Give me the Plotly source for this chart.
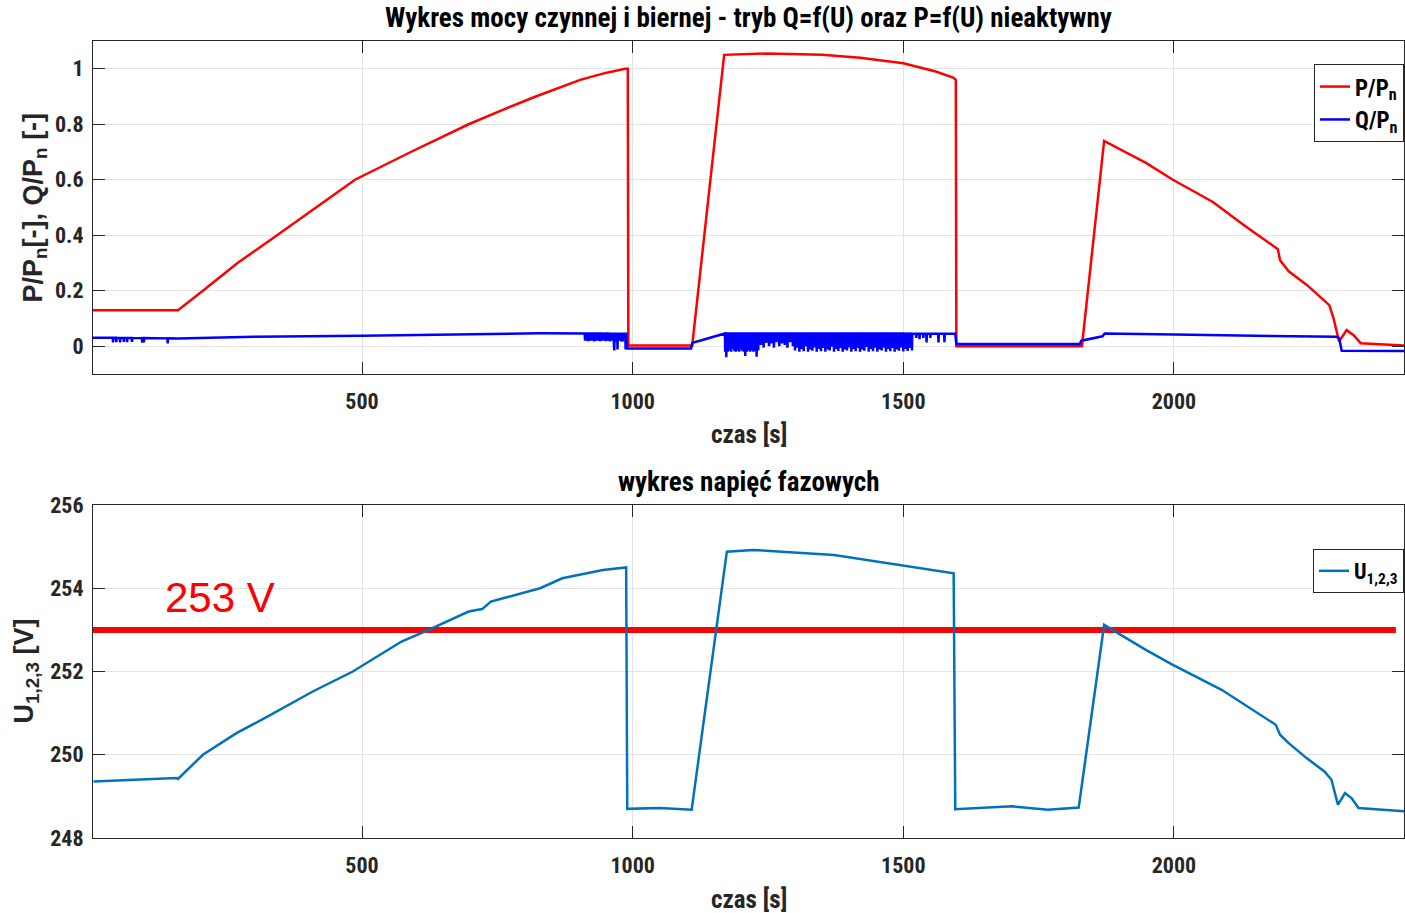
import numpy as np
import plotly.graph_objects as go

# ---------------- data ----------------
# Active power P/Pn
p_t = [3, 160, 206, 270, 343, 415, 487, 590, 697, 760, 821, 903, 950, 986, 991, 992, 1110,
       1169, 1250, 1350, 1420, 1500, 1560, 1593, 1597, 1598, 1830, 1871, 1949, 1998, 2072,
       2130, 2192, 2196, 2212, 2246, 2287, 2295, 2305, 2319, 2332, 2345, 2425]
p_v = [0.13, 0.13, 0.20, 0.30, 0.40, 0.50, 0.60, 0.70, 0.80, 0.852, 0.90, 0.96, 0.985, 1.0,
       1.0, 0.003, 0.003, 1.05, 1.055, 1.05, 1.04, 1.02, 0.99, 0.967, 0.96, 0.0, 0.0, 0.74,
       0.66, 0.60, 0.52, 0.435, 0.35, 0.31, 0.27, 0.22, 0.148, 0.10, 0.017, 0.058, 0.04,
       0.011, 0.003]

# Reactive power Q/Pn - base level
q_t = [3, 160, 300, 500, 700, 830, 988, 990, 1108, 1110, 1124, 1168, 1240, 1400, 1596, 1598,
       1826, 1829, 1868, 1872, 2000, 2150, 2300, 2305, 2310, 2425]
q_v = [0.031, 0.028, 0.034, 0.038, 0.043, 0.047, 0.045, -0.008, -0.008, 0.012, 0.02, 0.046,
       0.046, 0.046, 0.045, 0.008, 0.008, 0.02, 0.036, 0.046, 0.042, 0.039, 0.034, 0.03,
       -0.016, -0.017]

# Reactive power Q/Pn - downward spikes (time, minimum value)
spike_t = [40, 46, 53, 60, 66, 75, 94, 97, 141,
           912, 915, 918, 922, 925, 929, 932, 936, 940, 943, 947, 951, 954, 958, 962, 965,
           966, 969, 972, 975, 978, 981, 984, 987,
           1171, 1173, 1176, 1179, 1182, 1185, 1188, 1191, 1194, 1197, 1200, 1203, 1206, 1208,
           1211, 1214, 1217, 1220, 1223, 1226, 1229, 1232,
           1237, 1242, 1247, 1252, 1256, 1261, 1266, 1271, 1276, 1281, 1286, 1291, 1296,
           1300, 1304, 1308, 1312, 1316, 1320, 1324, 1328, 1332, 1336, 1340, 1344, 1348, 1352,
           1356, 1360, 1364, 1368, 1372, 1376, 1380, 1384, 1388, 1392, 1396, 1400, 1404, 1408,
           1412, 1416, 1420, 1424, 1428, 1432, 1436, 1440, 1444, 1448, 1452, 1456, 1460, 1464,
           1468, 1472, 1476, 1480, 1484, 1488, 1492, 1496, 1500, 1504, 1508, 1512, 1516,
           1524, 1530, 1537, 1543, 1550, 1565, 1576]
spike_v = [0.014, 0.015, 0.014, 0.016, 0.015, 0.016, 0.013, 0.014, 0.01,
           0.02, 0.02, 0.018, 0.02, 0.02, 0.017, 0.02, 0.02, 0.018, 0.02, 0.02, 0.018, 0.02,
           0.017, 0.02, 0.02, -0.015, 0.015, -0.012, 0.02, 0.018, 0.016, 0.02, -0.012,
           -0.02, -0.04, -0.02, -0.015, -0.02, -0.01, -0.018, -0.02, -0.015, -0.02, -0.012,
           -0.018, -0.02, -0.035, -0.02, -0.015, -0.02, -0.015, -0.02, -0.018, -0.038, -0.015,
           0.005, -0.005, 0.012, 0.0, 0.01, -0.005, 0.015, 0.0, 0.01, 0.005, -0.005, 0.015, 0.0,
           -0.015, -0.005, -0.02, -0.01, -0.018, 0.0, -0.02, -0.012, -0.016, -0.004, -0.02,
           -0.01, -0.018, -0.006, -0.02, -0.012, -0.015, -0.002, -0.02, -0.01, -0.017, -0.006,
           -0.02, -0.012, -0.015, -0.004, -0.02, -0.01, -0.018, -0.006, -0.02, -0.012, -0.016,
           -0.003, -0.02, -0.01, -0.018, -0.005, -0.02, -0.012, -0.015, -0.005, -0.02, -0.01,
           -0.018, -0.006, -0.02, -0.012, -0.016, -0.004, -0.019, -0.01, -0.017, -0.006, -0.015,
           0.03, 0.025, 0.03, 0.014, 0.03, 0.014, 0.015]

# Phase voltage U1,2,3
u_t = [4, 157, 160, 206, 268, 326, 409, 483, 573, 623, 697, 722, 738, 829, 870, 945, 988,
       990, 1050, 1109, 1174, 1223, 1372, 1454, 1536, 1593, 1596, 1701, 1767, 1824, 1871,
       1948, 1998, 2088, 2188, 2196, 2212, 2245, 2278, 2291, 2303, 2316, 2328, 2341, 2425]
u_v = [249.36, 249.44, 249.42, 250.0, 250.52, 250.92, 251.52, 252.0, 252.72, 253.0, 253.44,
       253.5, 253.68, 254.0, 254.24, 254.44, 254.5, 248.7, 248.72, 248.68, 254.88, 254.92,
       254.8, 254.64, 254.48, 254.36, 248.69, 248.76, 248.68, 248.73, 253.12, 252.52, 252.16,
       251.56, 250.72, 250.48, 250.28, 249.92, 249.6, 249.4, 248.8, 249.08, 248.96, 248.72,
       248.64]

limit_v = 253
limit_t = [3, 2410]

x_ticks = [500, 1000, 1500, 2000]
y1_ticks = [0, 0.2, 0.4, 0.6, 0.8, 1]
y1_text = ["0", "0.2", "0.4", "0.6", "0.8", "1"]
y2_ticks = [248, 250, 252, 254, 256]

# ---------------- build Q polyline from base + spikes ----------------
pts = list(zip(q_t, q_v))
for t, lo in zip(spike_t, spike_v):
    top = float(np.interp(t, q_t, q_v))
    pts += [(t - 0.6, top), (t, lo), (t + 0.6, top)]
pts.sort(key=lambda a: a[0])
qq_t = [a[0] for a in pts]
qq_v = [a[1] for a in pts]

# ---------------- figure ----------------
NARROW = "Liberation Sans Narrow, Arial Narrow, Roboto Condensed, Liberation Sans, sans-serif"
WIDE = "Liberation Sans, Arial, sans-serif"
TXT = "#262626"

fig = go.Figure()
fig.add_trace(go.Scatter(x=p_t, y=p_v, mode="lines", name="P/P<sub>n</sub>",
                         line=dict(color="#FF0000", width=2.5), xaxis="x", yaxis="y",
                         legend="legend"))
fig.add_trace(go.Scatter(x=qq_t, y=qq_v, mode="lines", name="Q/P<sub>n</sub>",
                         line=dict(color="#0000FF", width=2.5), xaxis="x", yaxis="y",
                         legend="legend"))
fig.add_trace(go.Scatter(x=limit_t, y=[limit_v, limit_v], mode="lines", showlegend=False,
                         line=dict(color="#FF0000", width=6), xaxis="x2", yaxis="y2",
                         hoverinfo="skip"))
fig.add_trace(go.Scatter(x=u_t, y=u_v, mode="lines", name="U<sub>1,2,3</sub>",
                         line=dict(color="#0072BD", width=2.5), xaxis="x2", yaxis="y2",
                         legend="legend2"))

axis_common = dict(showline=True, linecolor=TXT, linewidth=1, mirror="allticks",
                   ticks="inside", ticklen=12, tickcolor=TXT, showgrid=True,
                   gridcolor="#e3e3e3", gridwidth=1, zeroline=False,
                   tickfont=dict(family=NARROW, size=22, color=TXT, weight="bold"))

fig.update_layout(
    width=1405, height=913,
    margin=dict(l=93, r=1, t=41, b=75),
    paper_bgcolor="white", plot_bgcolor="white",
    xaxis=dict(domain=[0, 1], range=[3, 2425], anchor="y", tickvals=x_ticks,
               ticklabelstandoff=8, **axis_common),
    yaxis=dict(domain=[0.5822, 1], range=[-0.1, 1.1], anchor="x", tickvals=y1_ticks,
               ticktext=y1_text, ticklabelstandoff=4, **axis_common),
    xaxis2=dict(domain=[0, 1], range=[3, 2425], anchor="y2", tickvals=x_ticks,
                ticklabelstandoff=8, **axis_common),
    yaxis2=dict(domain=[0, 0.4178], range=[248, 256], anchor="x2", tickvals=y2_ticks,
                ticklabelstandoff=4, **axis_common),
    legend=dict(x=1, xanchor="right", y=0.971, yanchor="top", bgcolor="white",
                bordercolor=TXT, borderwidth=1, itemwidth=30, tracegroupgap=0,
                font=dict(family=NARROW, size=23, color="black", weight="bold")),
    legend2=dict(x=1, xanchor="right", y=0.3626, yanchor="top", bgcolor="white",
                 bordercolor=TXT, borderwidth=1, itemwidth=30,
                 font=dict(family=NARROW, size=22, color="black", weight="bold")),
    showlegend=True,
)

ann = []
ann.append(dict(text="Wykres mocy czynnej i biernej - tryb Q=f(U) oraz P=f(U) nieaktywny",
                xref="x domain", yref="y domain", x=0.5, y=1, yanchor="bottom", yshift=5,
                showarrow=False, font=dict(family=NARROW, size=27, color="black", weight="bold")))
ann.append(dict(text="wykres napięć fazowych",
                xref="x2 domain", yref="y2 domain", x=0.5, y=1, yanchor="bottom", yshift=5,
                showarrow=False, font=dict(family=NARROW, size=27, color="black", weight="bold")))
for xr, yr in (("x domain", "y domain"), ("x2 domain", "y2 domain")):
    ann.append(dict(text="czas [s]", xref=xr, yref=yr, x=0.5, y=0, yanchor="middle",
                    yshift=-61, showarrow=False,
                    font=dict(family=NARROW, size=25, color=TXT, weight="bold")))
ann.append(dict(text="P/P<sub>n</sub>[-], Q/P<sub>n</sub> [-]", xref="paper", yref="y domain",
                x=0, y=0.5, xanchor="center", yanchor="middle", xshift=-58, textangle=-90,
                showarrow=False, font=dict(family=WIDE, size=27, color=TXT, weight="bold")))
ann.append(dict(text="U<sub>1,2,3</sub> [V]", xref="paper", yref="y2 domain",
                x=0, y=0.5, xanchor="center", yanchor="middle", xshift=-67, textangle=-90,
                showarrow=False, font=dict(family=WIDE, size=27, color=TXT, weight="bold")))
ann.append(dict(text="253 V", xref="x2", yref="y2", x=132, y=253.77, xanchor="left",
                yanchor="middle", showarrow=False,
                font=dict(family=WIDE, size=42, color="#FF0000")))
fig.update_layout(annotations=ann)

fig.write_html("out.html", config={"displayModeBar": False})

# remove the default page margin so the figure fills the window exactly
with open("out.html", "r", encoding="utf-8") as f:
    html = f.read()
html = html.replace("<head>", "<head><style>html,body{margin:0;padding:0;overflow:hidden;}</style>", 1)
with open("out.html", "w", encoding="utf-8") as f:
    f.write(html)
